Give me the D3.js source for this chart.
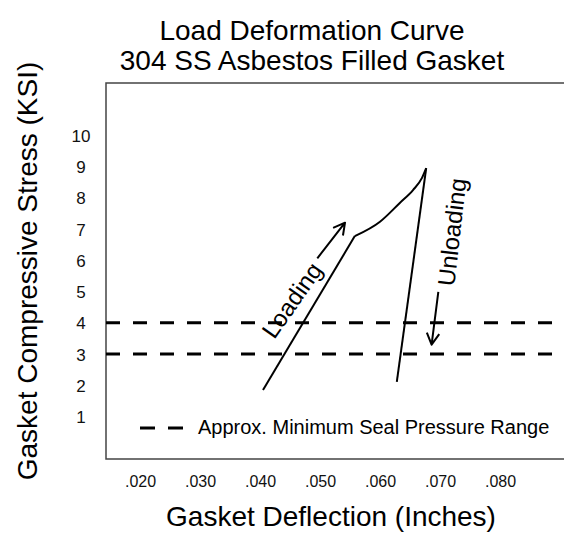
<!DOCTYPE html>
<html>
<head>
<meta charset="utf-8">
<script src="https://cdn.jsdelivr.net/npm/d3@7"></script>
<style>
    body { margin: 0; background: #fff; overflow: hidden; }
    svg { display: block; font-family: "Liberation Sans", Arial, sans-serif; }
</style>
</head>
<body>
<svg id="graph" width="564" height="533"></svg>
<script>
// chart values
const xTicks = [0.020, 0.030, 0.040, 0.050, 0.060, 0.070, 0.080];
const yTicks = [1, 2, 3, 4, 5, 6, 7, 8, 9, 10];
const sealRange = [3, 4];

// loading branch (deflection in, stress ksi)
const loadDeflection = [0.0405, 0.0558, 0.0600, 0.0633, 0.0655, 0.0670, 0.0677];
const loadStress     = [1.85,   6.77,   7.23,   7.83,   8.24,   8.63,   8.94];
// unloading branch
const unloadDeflection = [0.0677, 0.0628];
const unloadStress     = [8.94,   2.11];

const titleLines = ['Load Deformation Curve', '304 SS Asbestos Filled Gasket'];

(function () {
    let graph = {
        svg: d3.select('#graph'),
        frame: { left: 106, right: 570, top: 83, bottom: 459 }
    };
    let position = {
        x: d3.scaleLinear().domain([0.02, 0.08]).range([140, 500]),
        y: d3.scaleLinear().domain([0, 10]).range([448, 135])
    };
    const ink = '#000';
    const svg = graph.svg;

    // title
    svg.append('g').selectAll('text')
        .data(titleLines)
        .enter().append('text')
        .attr('x', 312)
        .attr('y', (d, i) => 40 + i * 30)
        .attr('text-anchor', 'middle')
        .style('font-size', '28px')
        .attr('fill', ink)
        .text(d => d);

    // frame (open at right, goes past the edge)
    const f = graph.frame;
    svg.append('path')
        .attr('d', `M${f.right},${f.top}H${f.left}V${f.bottom}H${f.right}`)
        .attr('fill', 'none')
        .attr('stroke', '#444')
        .attr('stroke-width', 1.5);

    // x axis labels
    const xAxis = svg.append('g')
        .attr('transform', 'translate(0,473)')
        .call(d3.axisBottom(position.x)
            .tickValues(xTicks)
            .tickSize(0)
            .tickFormat(d => d3.format('.3f')(d).replace(/^0/, '')));
    xAxis.select('.domain').remove();
    xAxis.selectAll('text')
        .attr('y', 14).attr('dy', 0)
        .style('font-size', '16px')
        .style('font-family', '"Liberation Sans", Arial, sans-serif')
        .attr('fill', '#111');

    // y axis labels
    const yAxis = svg.append('g')
        .attr('transform', 'translate(81,0)')
        .call(d3.axisLeft(position.y).tickValues(yTicks).tickSize(0));
    yAxis.select('.domain').remove();
    yAxis.selectAll('text')
        .attr('x', 0).attr('dy', '0.36em')
        .attr('text-anchor', 'middle')
        .style('font-size', '17px')
        .style('font-family', '"Liberation Sans", Arial, sans-serif')
        .attr('fill', '#111');

    // axis titles
    svg.append('text')
        .attr('x', 331).attr('y', 526)
        .attr('text-anchor', 'middle')
        .style('font-size', '28px')
        .attr('fill', ink)
        .text('Gasket Deflection (Inches)');
    svg.append('text')
        .attr('transform', 'translate(37,271) rotate(-90)')
        .attr('text-anchor', 'middle')
        .style('font-size', '28px')
        .attr('fill', ink)
        .text('Gasket Compressive Stress (KSI)');

    // minimum seal pressure lines
    svg.append('g').selectAll('line')
        .data(sealRange)
        .enter().append('line')
        .attr('x1', f.left).attr('x2', 570)
        .attr('y1', d => position.y(d)).attr('y2', d => position.y(d))
        .attr('stroke', ink)
        .attr('stroke-width', 3)
        .attr('stroke-dasharray', '14,13');

    // curves
    const loadPts = loadDeflection.map((d, i) => [d, loadStress[i]]);
    const unloadPts = unloadDeflection.map((d, i) => [d, unloadStress[i]]);
    const line = d3.line()
        .x(d => position.x(d[0]))
        .y(d => position.y(d[1]));
    const curve = d3.line()
        .curve(d3.curveMonotoneX)
        .x(d => position.x(d[0]))
        .y(d => position.y(d[1]));

    const curves = svg.append('g')
        .attr('fill', 'none')
        .attr('stroke', ink)
        .attr('stroke-width', 2)
        .attr('stroke-linejoin', 'round');
    curves.append('path').attr('d', line(loadPts.slice(0, 2)));
    curves.append('path').attr('d', curve(loadPts.slice(1)));
    curves.append('path').attr('d', line(unloadPts));

    // arrows
    function arrow(from, to) {
        const sx = position.x(from[0]), sy = position.y(from[1]);
        const tx = position.x(to[0]), ty = position.y(to[1]);
        const a = Math.atan2(ty - sy, tx - sx) + Math.PI;
        const len = 13, spread = 0.5;
        const w1 = [tx + len * Math.cos(a - spread), ty + len * Math.sin(a - spread)];
        const w2 = [tx + len * Math.cos(a + spread), ty + len * Math.sin(a + spread)];
        curves.append('path')
            .attr('d', `M${sx},${sy}L${tx},${ty}M${w1[0]},${w1[1]}L${tx},${ty}L${w2[0]},${w2[1]}`);
    }
    arrow([0.04955, 6.06], [0.05417, 7.2]);
    arrow([0.06972, 4.99], [0.06860, 3.3]);

    // annotations
    svg.append('text')
        .attr('transform', `translate(${position.x(0.04533)},${position.y(4.72)}) rotate(-55)`)
        .attr('text-anchor', 'middle')
        .attr('dy', '0.35em')
        .style('font-size', '24px')
        .attr('fill', ink)
        .text('Loading');
    svg.append('text')
        .attr('transform', `translate(${position.x(0.07200)},${position.y(6.9)}) rotate(-83.5)`)
        .attr('text-anchor', 'middle')
        .attr('dy', '0.35em')
        .style('font-size', '24px')
        .attr('fill', ink)
        .text('Unloading');

    // legend
    svg.append('line')
        .attr('x1', 140).attr('x2', 183)
        .attr('y1', 428).attr('y2', 428)
        .attr('stroke', ink)
        .attr('stroke-width', 3)
        .attr('stroke-dasharray', '15,13');
    svg.append('text')
        .attr('x', 198).attr('y', 434)
        .style('font-size', '20px')
        .attr('fill', ink)
        .text('Approx. Minimum Seal Pressure Range');
}());
</script>
</body>
</html>
